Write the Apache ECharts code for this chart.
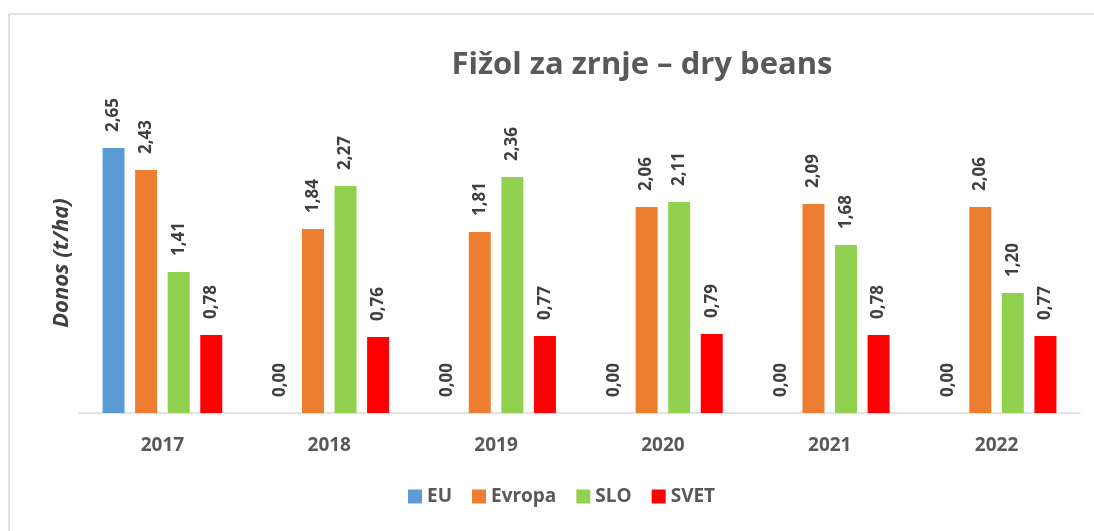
<!DOCTYPE html>
<html><head><meta charset="utf-8">
<script src="https://cdn.jsdelivr.net/npm/echarts@6/dist/echarts.min.js"></script>
<style>html,body{margin:0;padding:0;background:#fff}#c{width:1094px;height:531px}</style>
</head><body><div id="c"></div>
<script>
const categories = ['2017','2018','2019','2020','2021','2022'];
const euValues = [2.65, 0, 0, 0, 0, 0];
const evropaValues = [2.43, 1.84, 1.81, 2.06, 2.09, 2.06];
const sloValues = [1.41, 2.27, 2.36, 2.11, 1.68, 1.20];
const svetValues = [0.78, 0.76, 0.77, 0.79, 0.78, 0.77];
const seriesNames = ['EU', 'Evropa', 'SLO', 'SVET'];
const colors = ['#5B9BD5', '#ED7D31', '#92D050', '#FF0000'];
const font = '"Open Sans", "DejaVu Sans", sans-serif';

const chart = echarts.init(document.getElementById('c'));
const lbl = {
  show: true, position: 'top', rotate: 90, align: 'left', verticalAlign: 'middle',
  distance: 16, fontFamily: font, fontWeight: 'bold', fontSize: 17, color: '#404040',
  formatter: p => p.value.toFixed(2).replace('.', ',')
};
const data = [euValues, evropaValues, sloValues, svetValues];
chart.setOption({
  animation: false,
  color: colors,
  graphic: [{type: 'rect', shape: {x: 9, y: 14, width: 1200, height: 600}, style: {fill: 'none', stroke: '#d9d9d9', lineWidth: 1.5}, silent: true}],
  title: {text: 'Fižol za zrnje – dry beans', left: 637, top: 45, textAlign: 'center',
    textStyle: {fontFamily: font, fontWeight: 'bold', fontSize: 31, color: '#595959'}},
  legend: {bottom: 20, left: 403, itemWidth: 14, itemHeight: 14, itemGap: 20,
    icon: 'rect', textStyle: {fontFamily: font, fontWeight: 'bold', fontSize: 19, color: '#595959'},
    data: seriesNames},
  grid: {left: 79, right: 14, top: 113, bottom: 118},
  xAxis: {type: 'category', data: categories,
    axisLine: {lineStyle: {color: '#d9d9d9', width: 1.5}}, axisTick: {show: false},
    axisLabel: {margin: 23, fontFamily: font, fontWeight: 'bold', fontSize: 19, color: '#595959'}},
  yAxis: {type: 'value', min: 0, max: 3, interval: 1,
    axisLabel: {show: false}, splitLine: {show: false}, axisLine: {show: false}, axisTick: {show: false},
    name: 'Donos (t/ha)', nameLocation: 'middle', nameGap: 6, nameRotate: 90,
    nameTextStyle: {fontFamily: font, fontWeight: 'bold', fontStyle: 'italic', fontSize: 22, color: '#404040'}},
  series: seriesNames.map((n, i) => ({
    name: n, type: 'bar', data: data[i], barWidth: 22, barGap: '48%',
    itemStyle: {color: colors[i]}, label: lbl
  }))
});
</script></body></html>
